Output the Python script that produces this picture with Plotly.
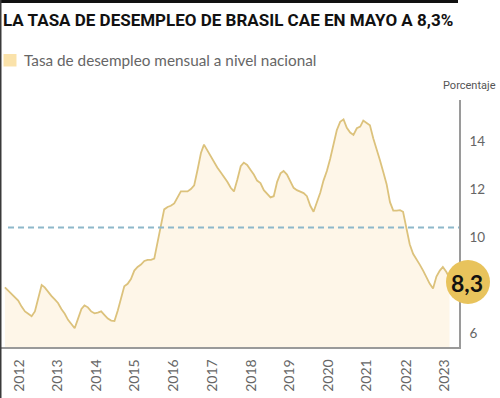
import pandas as pd
import plotly.graph_objects as go

# ---- data: monthly national unemployment rate (%), Mar 2012 .. May 2023 ----
start_month = "2012-03-01"
rate = [
    7.9, 7.75, 7.6, 7.45, 7.35, 7.1, 6.9, 6.8, 6.7, 6.9,          # 2012 Mar-Dec
    7.5, 8.0, 7.9, 7.7, 7.55, 7.4, 7.25, 7.0, 6.8, 6.55, 6.35, 6.2,  # 2013
    6.6, 7.0, 7.15, 7.07, 6.9, 6.82, 6.85, 6.9, 6.75, 6.6, 6.52, 6.5,  # 2014
    6.95, 7.5, 7.95, 8.05, 8.25, 8.6, 8.75, 8.85, 9.0, 9.05, 9.05, 9.1,  # 2015
    9.8, 10.6, 11.15, 11.25, 11.3, 11.4, 11.65, 11.9, 11.9, 11.9, 12.0, 12.15,  # 2016
    12.8, 13.5, 13.85, 13.6, 13.35, 13.1, 12.9, 12.7, 12.5, 12.3, 12.05, 11.9,  # 2017
    12.4, 12.95, 13.1, 13.0, 12.8, 12.6, 12.35, 12.25, 11.95, 11.8, 11.65, 11.7,  # 2018
    12.3, 12.65, 12.75, 12.6, 12.35, 12.05, 11.95, 11.9, 11.83, 11.7, 11.3, 11.05,  # 2019
    11.45, 11.85, 12.35, 12.75, 13.25, 13.85, 14.45, 14.8, 14.9, 14.55, 14.35, 14.25,  # 2020
    14.53, 14.6, 14.85, 14.75, 14.65, 14.1, 13.6, 13.2, 12.7, 12.2, 11.45, 11.1,  # 2021
    11.1, 11.12, 11.05, 10.3, 9.7, 9.3, 9.1, 8.85, 8.6, 8.3, 8.05, 7.85,  # 2022
    8.35, 8.6, 8.75, 8.55, 8.3,                                     # 2023 Jan-May
]
months = pd.date_range(start_month, periods=len(rate), freq="MS")

reference_level = 10.4
last_label = "8,3"

year_labels = ["2012", "2013", "2014", "2015", "2016", "2017",
               "2018", "2019", "2020", "2021", "2022", "2023"]
year_tick_dates = ["2012-07-10", "2013-06-24", "2014-06-20", "2015-06-06",
                   "2016-05-29", "2017-05-19", "2018-05-12", "2019-04-28",
                   "2020-04-12", "2021-04-02", "2022-03-28", "2023-03-20"]
y_ticks = [6, 10, 12, 14]

title_text = "LA TASA DE DESEMPLEO DE BRASIL CAE EN MAYO A 8,3%"
legend_text = "Tasa de desempleo mensual a nivel nacional"
unit_text = "Porcentaje"

# ---- styles ----
LINE_COLOR = "#dcc27c"
FILL_COLOR = "#fef6e8"
AXIS_COLOR = "#9a9a9a"
TICK_COLOR = "#666666"
DASH_COLOR = "#8db8ca"
BADGE_COLOR = "#e8c35c"
BODY_FONT = "Lato, 'Open Sans', sans-serif"
COND_FONT = "'Liberation Sans Narrow', 'Roboto', sans-serif"

W, H = 500, 398
L, R, T, B = 0, 41, 100, 51
pw, ph = W - L - R, H - T - B


def px_x(p):
    return (p - L) / pw


def px_y(p):
    return (H - B - p) / ph


fig = go.Figure()
fig.add_trace(go.Scatter(
    x=months, y=rate, mode="lines",
    line=dict(color=LINE_COLOR, width=1.8),
    fill="tozeroy", fillcolor=FILL_COLOR,
    hoverinfo="skip", showlegend=False,
))

shapes = [
    # top black bar
    dict(type="rect", xref="paper", yref="paper", x0=px_x(0), x1=px_x(458),
         y0=px_y(0), y1=px_y(3), fillcolor="#111111", line=dict(width=0)),
    # left border
    dict(type="line", xref="paper", yref="paper", x0=px_x(0.5), x1=px_x(0.5),
         y0=px_y(0), y1=px_y(398), line=dict(color="#3a3a3a", width=2)),
    # legend swatch
    dict(type="rect", xref="paper", yref="paper", x0=px_x(3.5), x1=px_x(16.5),
         y0=px_y(54), y1=px_y(66.5), fillcolor="#fae2aa", line=dict(width=0)),
    # reference dashed line
    dict(type="line", xref="paper", yref="y", x0=px_x(8), x1=1,
         y0=reference_level, y1=reference_level, layer="above",
         line=dict(color=DASH_COLOR, width=2, dash="6px,4px")),
    # badge circle
    dict(type="circle", xref="paper", yref="paper",
         xsizemode="pixel", ysizemode="pixel",
         xanchor=px_x(468), yanchor=px_y(282),
         x0=-22, x1=22, y0=-22, y1=22,
         fillcolor=BADGE_COLOR, line=dict(width=0), layer="above"),
]

annotations = [
    dict(text=f"<b>{title_text}</b>", xref="paper", yref="paper",
         x=px_x(1), y=px_y(20.5), xanchor="left", yanchor="middle",
         showarrow=False, font=dict(family=COND_FONT, size=17, color="#111111")),
    dict(text=legend_text, xref="paper", yref="paper",
         x=px_x(21.5), y=px_y(60), xanchor="left", yanchor="middle",
         showarrow=False, font=dict(family=BODY_FONT, size=15.3, color="#666666")),
    dict(text=unit_text, xref="paper", yref="paper",
         x=px_x(498), y=px_y(86), xanchor="right", yanchor="middle",
         showarrow=False, font=dict(family=COND_FONT, size=11, color="#555555")),
    dict(text=f"<b>{last_label}</b>", xref="paper", yref="paper",
         x=px_x(467), y=px_y(282.5), xanchor="center", yanchor="middle",
         showarrow=False, font=dict(family=BODY_FONT, size=23, color="#111111")),
]

fig.update_layout(
    width=W, height=H,
    margin=dict(l=L, r=R, t=T, b=B),
    paper_bgcolor="white", plot_bgcolor="white",
    shapes=shapes, annotations=annotations,
    showlegend=False,
    xaxis=dict(
        type="date", range=["2012-01-16", "2023-07-27"],
        tickvals=year_tick_dates, ticktext=year_labels,
        tickangle=-90, ticks="", showgrid=False, zeroline=False,
        showline=True, linecolor=AXIS_COLOR, linewidth=1.5,
        tickfont=dict(family=BODY_FONT, size=14, color=TICK_COLOR),
        ticklabelstandoff=5,
    ),
    yaxis=dict(
        side="right", range=[5.417, 15.708],
        tickvals=y_ticks, ticks="", showgrid=False, zeroline=False,
        showline=True, linecolor=AXIS_COLOR, linewidth=1.5,
        tickfont=dict(family=BODY_FONT, size=13.5, color=TICK_COLOR),
        ticklabelstandoff=6,
    ),
)

fig.write_html(
    "out.html",
    config={"displayModeBar": False},
    post_script="document.body.style.margin='0';document.body.style.padding='0';",
)
